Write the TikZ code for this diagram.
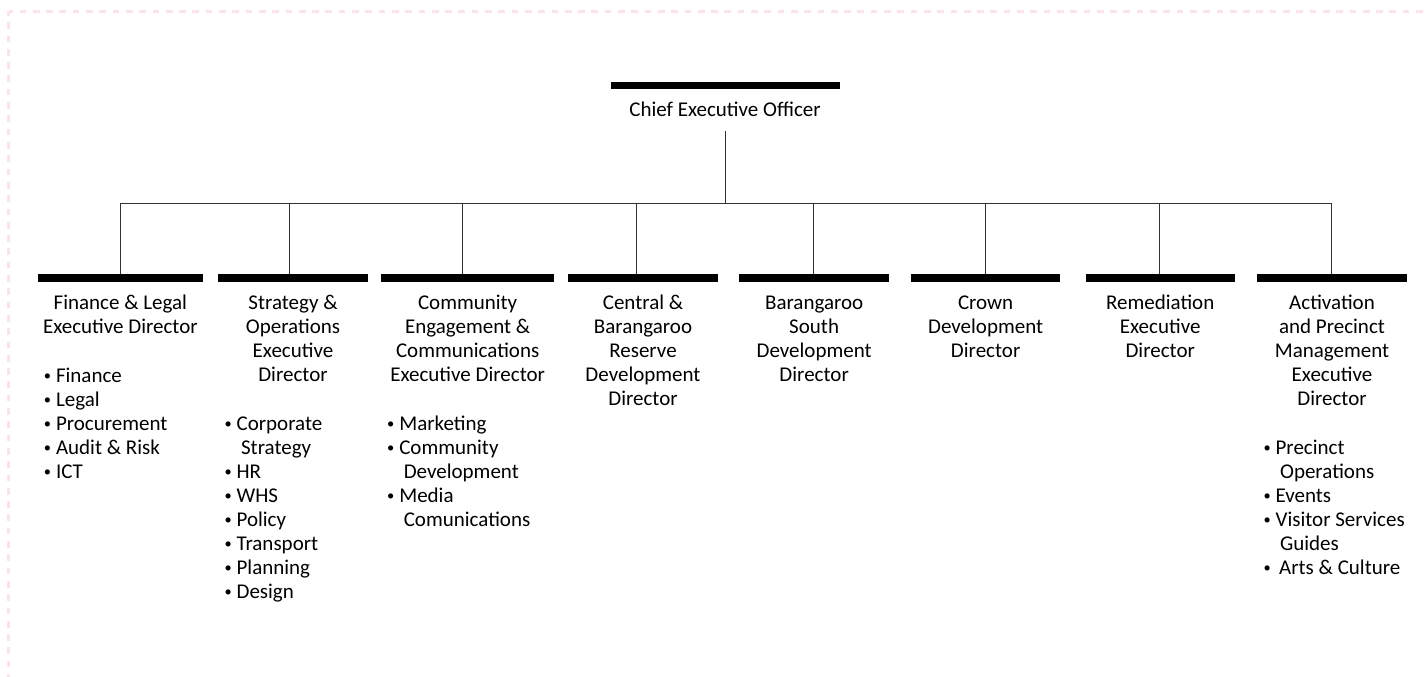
\documentclass[tikz,border=0pt]{standalone}
\usepackage{fontspec}
\setmainfont{Carlito}
\definecolor{wirecol}{RGB}{50,50,50}
\definecolor{framepink}{RGB}{252,226,234}
% small bullet in a fixed-width slot so item texts line up
\newcommand\blt{\makebox[11.5pt][l]{\hspace{-0.6pt}\raisebox{2.1pt}{\fontsize{14.5}{14.5}\selectfont •}}}
\newcommand\cont{\hspace*{16pt}}
\begin{document}
\begin{tikzpicture}[x=1pt,y=-1pt,
  bar/.style={fill=black,draw=none,inner sep=0pt,minimum height=7.4pt},
  wire/.style={draw=wirecol,line width=1pt},
  txt/.style={font=\fontsize{21}{24}\selectfont,inner sep=0pt,text=black},
  title/.style={txt,align=center,anchor=north},
  items/.style={txt,align=left,anchor=north west},
  frame/.style={draw=framepink,line width=2.7pt,dash pattern=on 6.7pt off 6.6pt,dash phase=2.3pt}]
\useasboundingbox (0,0) rectangle (1425,677);

% dashed page frame
\coordinate (fc) at (8.5,11.3);
\coordinate (fr) at (1425,11.3);
\coordinate (fb) at (8.5,677);
\draw[frame] (fc) -- (fr);
\draw[frame] (fc) -- (fb);

% chief executive
\node[bar,minimum width=228.7pt] (b0) at (725.35,85.5) {};
\node[title] (t0) at (725,99.9) {\strut Chief Executive Officer};

% director bars
\node[bar,minimum width=165.3pt] (b1) at (120.35,278) {};
\node[bar,minimum width=149.4pt] (b2) at (293,278) {};
\node[bar,minimum width=173.3pt] (b3) at (467.65,278) {};
\node[bar,minimum width=149.4pt] (b4) at (643,278) {};
\node[bar,minimum width=149.7pt] (b5) at (814.15,278) {};
\node[bar,minimum width=149.3pt] (b6) at (985.65,278) {};
\node[bar,minimum width=149pt] (b7) at (1160.2,278) {};
\node[bar,minimum width=149.4pt] (b8) at (1332,278) {};

% director titles
\node[title] (t1) at (120.35,292.5) {\strut Finance \& Legal\\Executive Director};
\node[title] (t2) at (293,292.5) {\strut Strategy \&\\Operations\\Executive\\Director};
\node[title] (t3) at (467.65,292.5) {\strut Community\\Engagement \&\\Communications\\Executive Director};
\node[title] (t4) at (643,292.5) {\strut Central \&\\Barangaroo\\Reserve\\Development\\Director};
\node[title] (t5) at (814.15,292.5) {\strut Barangaroo\\South\\Development\\Director};
\node[title] (t6) at (985.65,292.5) {\strut Crown\\Development\\Director};
\node[title] (t7) at (1160.2,292.5) {\strut Remediation\\Executive\\Director};
\node[title] (t8) at (1332,292.5) {\strut Activation\\and Precinct\\Management\\Executive\\Director};

% responsibilities
\node[items] (l1) at (44.3,365.9) {\strut\blt Finance\\\blt Legal\\\blt Procurement\\\blt Audit \& Risk\\\blt ICT};
\node[items] (l2) at (224.9,413.9) {\strut\blt Corporate\\\cont Strategy\\\blt HR\\\blt WHS\\\blt Policy\\\blt Transport\\\blt Planning\\\blt Design};
\node[items] (l3) at (387.6,413.9) {\strut\blt Marketing\\\blt Community\\\cont Development\\\blt Media\\\cont Comunications};
\node[items] (l8) at (1263.9,437.9) {\strut\blt Precinct\\\cont Operations\\\blt Events\\\blt Visitor Services\\\cont Guides\\\blt\hspace{3.6pt}Arts \& Culture};

% reporting lines
\coordinate (stem) at (725.7,131);
\coordinate (j0) at (725.7,203);
\coordinate (j1) at (120.3,203);
\coordinate (j2) at (289,203);
\coordinate (j3) at (462.3,203);
\coordinate (j4) at (636.3,203);
\coordinate (j5) at (813.7,203);
\coordinate (j6) at (985.3,203);
\coordinate (j7) at (1159.7,203);
\coordinate (j8) at (1331.7,203);
\draw[wire] (stem) -- (j0);
\draw[wire] (j1) -- (j8);
\foreach \i in {1,...,8}{
  \draw[wire] (j\i) -- (j\i |- b\i.north);
}
\end{tikzpicture}
\end{document}
